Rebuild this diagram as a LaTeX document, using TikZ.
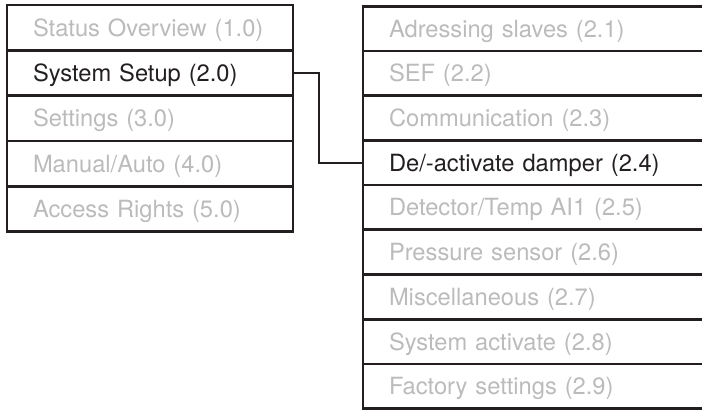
\documentclass[tikz,border=0pt]{standalone}
\usepackage{fontspec}
\setmainfont{TeX Gyre Heros}
\usetikzlibrary{positioning}
\definecolor{menuline}{HTML}{231F20}
\definecolor{menugray}{HTML}{BBBBBB}

\begin{document}
\begin{tikzpicture}[
  x=1pt, y=-1pt,
  item/.style={draw=menuline, line width=2.7pt, rectangle, anchor=north west, outer sep=0pt,
    inner xsep=26pt, inner ysep=0pt, text height=17pt, text depth=0pt, align=left,
    font=\fontsize{23.7}{28}\selectfont},
  leftitem/.style={item, text width=234pt, minimum height=45.3pt},
  rightitem/.style={item, text width=295pt, minimum height=44.7pt},
  dim/.style={text=menugray},
  active/.style={text=menuline},
  link/.style={draw=menuline, line width=2pt}
]
  \useasboundingbox (0,0) rectangle (702,410);
  \clip (0,0) rectangle (702,410);
  \foreach \name/\sty/\label [count=\i] in {
    l1/dim/{Status Overview (1.0)},
    l2/active/{System Setup (2.0)},
    l3/dim/{Settings (3.0)},
    l4/dim/{Manual/Auto (4.0)},
    l5/dim/{Access Rights (5.0)}
  } {
    \node[leftitem, \sty] (\name) at (7, 5+45.3*\i-45.3) {\label};
  }
  \foreach \name/\sty/\label [count=\i] in {
    r1/dim/{Adressing slaves (2.1)},
    r2/dim/{SEF (2.2)},
    r3/dim/{Communication (2.3)},
    r4/active/{De/-activate damper (2.4)},
    r5/dim/{Detector/Temp AI1 (2.5)},
    r6/dim/{Pressure sensor (2.6)},
    r7/dim/{Miscellaneous (2.7)},
    r8/dim/{System activate (2.8)},
    r9/dim/{Factory settings (2.9)}
  } {
    \node[rightitem, \sty] (\name) at (363, 6.3+44.7*\i-44.7) {\label};
  }
  \draw[link] (l2.east) -- ++(26.3,0) |- (r4.west);
\end{tikzpicture}
\end{document}
